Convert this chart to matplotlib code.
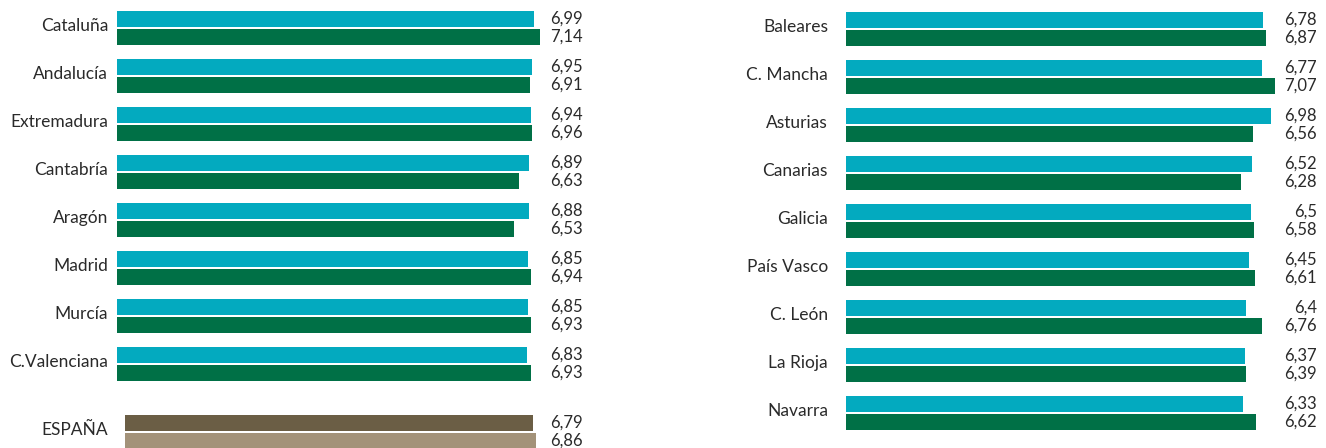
import matplotlib.pyplot as plt
import matplotlib.transforms as mtransforms

plt.rcParams['font.family'] = ['Lato', 'DejaVu Sans']

# datos
regiones_izq = ['Cataluña', 'Andalucía', 'Extremadura', 'Cantabría', 'Aragón',
                'Madrid', 'Murcía', 'C.Valenciana']
serie1_izq = [6.99, 6.95, 6.94, 6.89, 6.88, 6.85, 6.85, 6.83]
serie2_izq = [7.14, 6.91, 6.96, 6.63, 6.53, 6.94, 6.93, 6.93]

regiones_der = ['Baleares', 'C. Mancha', 'Asturias', 'Canarias', 'Galicia',
                'País Vasco', 'C. León', 'La Rioja', 'Navarra']
serie1_der = [6.78, 6.77, 6.98, 6.52, 6.5, 6.45, 6.4, 6.37, 6.33]
serie2_der = [6.87, 7.07, 6.56, 6.28, 6.58, 6.61, 6.76, 6.39, 6.62]

espana_label = 'ESPAÑA'
espana_1 = 6.79
espana_2 = 6.86

C_AZUL = '#03aabf'
C_VERDE = '#007046'
C_OSCURO = '#6b5e45'
C_CLARO = '#a39279'
C_TEXTO = '#2a2a2a'

W, H = 1326, 448
fig = plt.figure(figsize=(W / 100, H / 100), dpi=100)

BASE = -3.0
ALTO = 16 / 48
DESP = 9 / 48
FS_LAB = 12.5
FS_NUM = 12


def fmt(v):
    s = ('%.2f' % v).rstrip('0').rstrip('.')
    return s.replace('.', ',')


def panel(x0, ancho, esc, nombres, s1, s2, sep, x_num, dy=0, extra=None):
    ax = fig.add_axes([x0 / W, 0, ancho / W, 1])
    ax.set_xlim(BASE, BASE + ancho / esc)
    ax.set_ylim((H - 28 - dy) / 48, (-28 - dy) / 48)
    pos = list(range(len(nombres)))
    ax.barh([p - DESP for p in pos], [v - BASE for v in s1], left=BASE,
            height=ALTO, color=C_AZUL)
    ax.barh([p + DESP for p in pos], [v - BASE for v in s2], left=BASE,
            height=ALTO, color=C_VERDE)
    etiquetas = list(nombres)
    tr = mtransforms.blended_transform_factory(ax.transAxes, ax.transData)
    for p, a, b in zip(pos, s1, s2):
        ax.text(x_num, p - DESP, fmt(a), ha='right', va='center', fontsize=FS_NUM,
                color=C_TEXTO, transform=tr)
        ax.text(x_num, p + DESP, fmt(b), ha='right', va='center', fontsize=FS_NUM,
                color=C_TEXTO, transform=tr)
    if extra is not None:
        ye = (432 - 28) / 48
        corr = 8 / esc
        ax.barh(ye - DESP, extra[1] - BASE, left=BASE + corr, height=ALTO, color=C_OSCURO)
        ax.barh(ye + DESP, extra[2] - BASE, left=BASE + corr, height=ALTO, color=C_CLARO)
        ax.text(x_num, ye - DESP, fmt(extra[1]), ha='right', va='center',
                fontsize=FS_NUM, color=C_TEXTO, transform=tr)
        ax.text(x_num, ye + DESP, fmt(extra[2]), ha='right', va='center',
                fontsize=FS_NUM, color=C_TEXTO, transform=tr)
        pos = pos + [ye]
        etiquetas = etiquetas + [extra[0]]
    # nombres de region, linea base 3 px bajo el centro del grupo
    tr_lab = tr + mtransforms.ScaledTranslation(-sep / 100, -3 / 100, fig.dpi_scale_trans)
    for p, nom in zip(pos, etiquetas):
        ax.text(0, p, nom, ha='right', va='baseline', fontsize=FS_LAB,
                color=C_TEXTO, transform=tr_lab)
    ax.set_yticks([])
    ax.set_xticks([])
    for s in ax.spines.values():
        s.set_visible(False)
    return ax


panel(117, 480, 41.7, regiones_izq, serie1_izq, serie2_izq, 9, (583 - 117) / 480,
      extra=(espana_label, espana_1, espana_2))
panel(846, 480, 42.6, regiones_der, serie1_der, serie2_der, 18, (1317 - 846) / 480,
      dy=1)

fig.savefig('out.png', dpi=100)
